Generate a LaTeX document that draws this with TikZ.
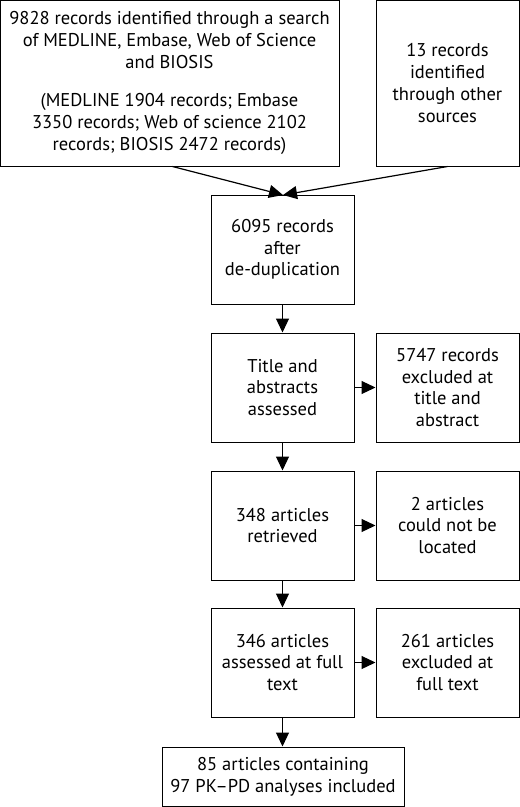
\documentclass[tikz,border=0pt]{standalone}
\usepackage{fontspec}
\setmainfont{PT Sans}
\usetikzlibrary{arrows.meta}

\begin{document}
\begin{tikzpicture}[x=1pt,y=-1pt,
	box/.style={draw,line width=1pt,align=center,inner sep=0pt,font=\fontsize{18.5}{21.7}\selectfont},
	flow/.style={line width=1.2pt,-{Triangle[length=14pt,width=13pt]}}]
			\useasboundingbox (0,0) rectangle (520,807);
			\node[box,minimum width=339,minimum height=166] (search) at (169.5,83) {9828 records identified through a search\\of MEDLINE, Embase, Web of Science\\and BIOSIS\\[17pt](MEDLINE 1904 records; Embase\\3350 records; Web of science 2102\\records; BIOSIS 2472 records)};
			\node[box,minimum width=143,minimum height=166] (other) at (447.5,83) {13 records\\identified\\through other\\sources};
			\node[box,minimum width=143,minimum height=109] (dedup) at (282.5,249.5) {6095 records\\after\\de-duplication};
			\node[box,minimum width=143,minimum height=109] (title) at (282.5,387.5) {Title and\\abstracts\\assessed};
			\node[box,minimum width=143,minimum height=109] (excl) at (447.5,387.5) {5747 records\\excluded at\\title and\\abstract};
			\node[box,minimum width=143,minimum height=109] (retr) at (282.5,525.5) {348 articles\\retrieved};
			\node[box,minimum width=143,minimum height=109] (notloc) at (447.5,525.5) {2 articles\\could not be\\located};
			\node[box,minimum width=143,minimum height=109] (full) at (282.5,662.5) {346 articles\\assessed at full\\text};
			\node[box,minimum width=143,minimum height=109] (exclfull) at (447.5,662.5) {261 articles\\excluded at\\full text};
			\node[box,minimum width=242,minimum height=59] (incl) at (283,776.5) {85 articles containing\\97 PK--PD analyses included};
			\coordinate (tip) at (283,195);
			\draw[flow] (search.south) ++(3,0) -- (tip);
			\draw[flow] (other.south) -- (tip);
			\draw[flow] (dedup) -- (title);
			\draw[flow] (title) -- (excl);
			\draw[flow] (title) -- (retr);
			\draw[flow] (retr) -- (notloc);
			\draw[flow] (retr) -- (full);
			\draw[flow] (full) -- (exclfull);
			\draw[flow] (full) -- (full.south |- incl.north);
\end{tikzpicture}
\end{document}
